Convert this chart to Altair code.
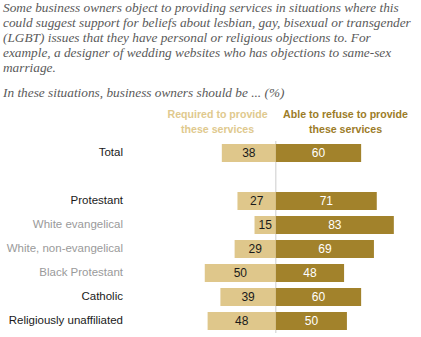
import altair as alt
import pandas as pd

groups = ["Total", "Protestant", "White evangelical", "White, non-evangelical",
          "Black Protestant", "Catholic", "Religiously unaffiliated"]
required = [38, 27, 15, 29, 50, 39, 48]
refuse = [60, 71, 83, 69, 48, 60, 50]
subgroups = ["White evangelical", "White, non-evangelical", "Black Protestant"]

row_order = ["Total", " ", "Protestant", "White evangelical", "White, non-evangelical",
             "Black Protestant", "Catholic", "Religiously unaffiliated"]

intro_lines = [
    "Some business owners object to providing services in situations where this",
    "could suggest support for beliefs about lesbian, gay, bisexual or transgender",
    "(LGBT) issues that they have personal or religious objections to. For",
    "example, a designer of wedding websites who has objections to same-sex",
    "marriage.",
]
subtitle = "In these situations, business owners should be ... (%)"

LIGHT = "#dfc78b"
DARK = "#a2822b"

rows = []
for g, r, f in zip(groups, required, refuse):
    rows.append({"group": g, "series": "Required", "start": -r, "end": 0, "val": r, "mid": -r / 2})
    rows.append({"group": g, "series": "Refuse", "start": 0, "end": f, "val": f, "mid": f / 2})
df = pd.DataFrame(rows)

glabels = pd.DataFrame({"group": groups, "sub": [g in subgroups for g in groups]})

headers = pd.DataFrame([
    {"text": "Required to provide|these services", "x": -41, "series": "Required"},
    {"text": "Able to refuse to provide|these services", "x": 49, "series": "Refuse"},
])

intro = pd.DataFrame({"text": ["|".join(intro_lines)]})
sub = pd.DataFrame({"text": [subtitle]})

xscale = alt.Scale(domain=[-104, 100])
yscale = alt.Scale(domain=row_order, paddingInner=0.25, paddingOuter=0.125)

base = alt.Chart(df)

bars = base.mark_bar().encode(
    x=alt.X("start:Q", scale=xscale, axis=None),
    x2="end:Q",
    y=alt.Y("group:N", scale=yscale, axis=None),
    color=alt.Color("series:N", scale=alt.Scale(domain=["Required", "Refuse"], range=[LIGHT, DARK]),
                    legend=None),
)

labels = base.mark_text(font="Liberation Sans", fontSize=12).encode(
    x=alt.X("mid:Q", scale=xscale, axis=None),
    y=alt.Y("group:N", scale=yscale, axis=None),
    text="val:Q",
    color=alt.condition(alt.datum.series == "Refuse", alt.value("#ffffff"), alt.value("#1a1a1a")),
)

rowlab = alt.Chart(glabels).mark_text(font="Liberation Sans", fontSize=11.5, align="right").encode(
    x=alt.value(-5),
    y=alt.Y("group:N", scale=yscale, axis=None),
    text="group:N",
    color=alt.condition(alt.datum.sub, alt.value("#9a9a9a"), alt.value("#1a1a1a")),
)

rule = alt.Chart(pd.DataFrame({"x": [0]})).mark_rule(color="#cccccc", strokeWidth=1).encode(
    x=alt.X("x:Q", scale=xscale, axis=None),
)

head = alt.Chart(headers).mark_text(font="Liberation Sans", fontSize=10.6, fontWeight="bold",
                                    lineHeight=15, baseline="top", lineBreak="|").encode(
    x=alt.X("x:Q", scale=xscale, axis=None),
    y=alt.value(-31),
    text="text:N",
    color=alt.condition(alt.datum.series == "Refuse", alt.value("#9c7c28"), alt.value("#e0c98e")),
)

intro_txt = alt.Chart(intro).mark_text(font="Liberation Serif", fontStyle="italic", fontSize=13.3,
                                       lineHeight=15, align="left", baseline="top",
                                       lineBreak="|", color="#5a5a5a").encode(
    x=alt.value(-125),
    y=alt.value(-140),
    text="text:N",
)

sub_txt = alt.Chart(sub).mark_text(font="Liberation Serif", fontStyle="italic", fontSize=13.3,
                                   align="left", baseline="top", color="#5a5a5a").encode(
    x=alt.value(-125),
    y=alt.value(-55),
    text="text:N",
)

chart = alt.layer(rule, bars, labels, rowlab, head, intro_txt, sub_txt).properties(
    width=290,
    height=192,
    autosize=alt.AutoSizeParams(type="none"),
    padding={"left": 128, "top": 141, "right": 0, "bottom": 0},
).configure_view(stroke=None)

chart.save("out.html", embed_options={"renderer": "svg", "actions": False})
